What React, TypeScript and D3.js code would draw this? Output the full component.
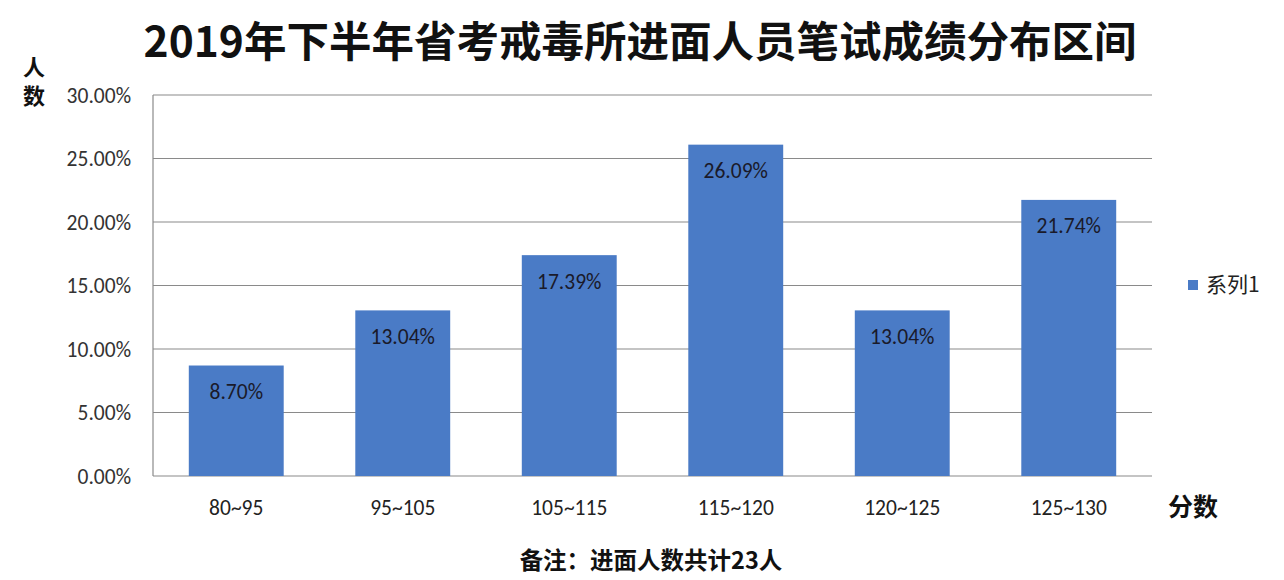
import * as d3 from "d3";

const categories = ["80~95", "95~105", "105~115", "115~120", "120~125", "125~130"];
const shares = [8.7, 13.04, 17.39, 26.09, 13.04, 21.74];
const yTicks = [0, 5, 10, 15, 20, 25, 30];
const seriesName = "系列1";
const title = "2019年下半年省考戒毒所进面人员笔试成绩分布区间";
const note = "备注：进面人数共计23人";

const W = 1284;
const H = 580;
const margin = { top: 95, right: 132, bottom: 104, left: 153 };
const font = "'Noto Sans CJK SC', 'Noto Sans', sans-serif";
const numFont = "Calibri, Carlito, 'Open Sans', sans-serif";
const barColor = "#4a7bc6";

export default function App() {
  const innerW = W - margin.left - margin.right;
  const innerH = H - margin.top - margin.bottom;

  const x = d3.scaleBand<string>().domain(categories).range([0, innerW]).paddingInner(0.43).paddingOuter(0.215);
  const y = d3.scaleLinear().domain([0, 30]).range([innerH, 0]);

  return (
    <svg width={W} height={H} style={{ position: "absolute", left: 0, top: 0, background: "#fff" }} fontFamily={font}>
      <text x={640} y={57} textAnchor="middle" fontSize={42.5} fontWeight={700} fill="#111">
        {title}
      </text>

      {/* axis titles */}
      <text x={34} y={75} textAnchor="middle" fontSize={22} fontWeight={700} fill="#111">人</text>
      <text x={34} y={104} textAnchor="middle" fontSize={22} fontWeight={700} fill="#111">数</text>
      <text x={1193} y={516} textAnchor="middle" fontSize={25} fontWeight={700} fill="#111">分数</text>

      <g transform={`translate(${margin.left},${margin.top})`}>
        {yTicks.map((t) => (
          <g key={t} transform={`translate(0,${y(t)})`}>
            <line x1={0} x2={innerW} stroke="#8a8a8a" strokeWidth={1.2} />
            <text x={-22} dy="0.35em" textAnchor="end" fontSize={21.5} fontFamily={numFont} fill="#333">
              {t.toFixed(2)}%
            </text>
          </g>
        ))}
        <line x1={0} x2={0} y1={0} y2={innerH} stroke="#8a8a8a" strokeWidth={1.2} />

        {categories.map((c, i) => (
          <g key={c}>
            <rect x={x(c)} y={y(shares[i])} width={x.bandwidth()} height={innerH - y(shares[i])} fill={barColor} />
            <text
              x={(x(c) ?? 0) + x.bandwidth() / 2}
              y={y(shares[i]) + 26}
              dy="0.35em"
              textAnchor="middle"
              fontSize={21.5}
              fontFamily={numFont}
              fill="#1a1a2a"
            >
              {shares[i].toFixed(2)}%
            </text>
            <text
              x={(x(c) ?? 0) + x.bandwidth() / 2}
              y={innerH + 31}
              dy="0.35em"
              textAnchor="middle"
              fontSize={21.5}
              fontFamily={numFont}
              fill="#222"
            >
              {c}
            </text>
          </g>
        ))}
      </g>

      {/* legend */}
      <rect x={1188} y={280} width={10} height={10} fill={barColor} />
      <text x={1206} y={285} dy="0.35em" fontSize={21} fill="#222">
        {seriesName}
      </text>

      <text x={651} y={569} textAnchor="middle" fontSize={23.5} fontWeight={700} fill="#111">
        {note}
      </text>
    </svg>
  );
}
